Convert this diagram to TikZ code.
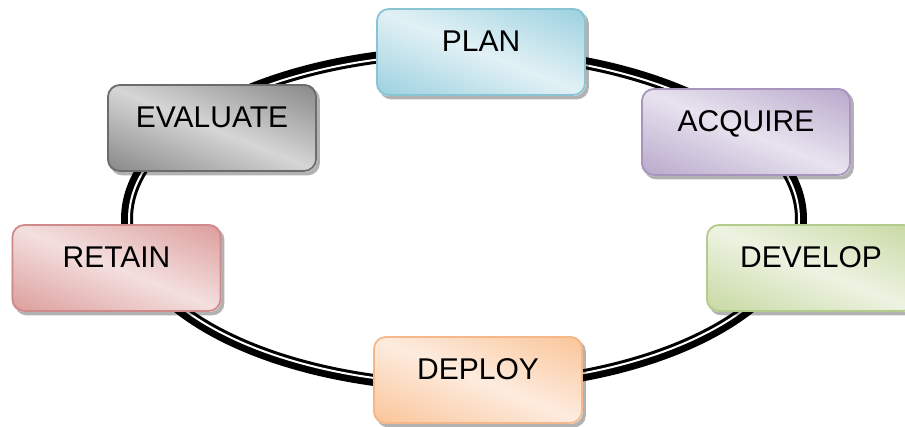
\documentclass[tikz,border=0pt]{standalone}
\usepackage{fontspec}
\setmainfont{Liberation Sans}
\usetikzlibrary{backgrounds}
\definecolor{planD}{HTML}{93CDDD}\definecolor{planL}{HTML}{E2F1F5}\definecolor{planB}{HTML}{88C4D4}
\definecolor{evalD}{HTML}{7F7F7F}\definecolor{evalL}{HTML}{D6D6D6}\definecolor{evalB}{HTML}{6C6C6C}
\definecolor{retD}{HTML}{D99694}\definecolor{retL}{HTML}{F3E0DF}\definecolor{retB}{HTML}{CF8A8C}
\definecolor{depD}{HTML}{FAC090}\definecolor{depL}{HTML}{FDECDF}\definecolor{depB}{HTML}{F4B88A}
\definecolor{acqD}{HTML}{B3A2C7}\definecolor{acqL}{HTML}{E8E3EF}\definecolor{acqB}{HTML}{A795BE}
\definecolor{devD}{HTML}{C3D69B}\definecolor{devL}{HTML}{EDF3E2}\definecolor{devB}{HTML}{B3CB8C}
\begin{document}
\begin{tikzpicture}[x=1pt,y=1pt,
  cyclebox/.style={rectangle, rounded corners=12pt,
    minimum width=208pt, minimum height=86pt, line width=1.7pt, draw=#1,
    font=\fontsize{30}{36}\selectfont, text height=10.5pt, text depth=10.5pt},
  boxshadow/.style={fill=black, opacity=0.3, rounded corners=12pt},
  ring/.style={draw=black, line width=12pt},
  ringgap/.style={draw=white, line width=2pt}]
\useasboundingbox (0,0) rectangle (905,427);
\node[cyclebox=planB] (plan) at (481,375) {PLAN};
\node[cyclebox=acqB] (acquire) at (746,295) {ACQUIRE};
\node[cyclebox=devB] (develop) at (811,159) {DEVELOP};
\node[cyclebox=depB] (deploy) at (478,47) {DEPLOY};
\node[cyclebox=retB] (retain) at (116.5,159) {RETAIN};
\node[cyclebox=evalB] (evaluate) at (212,299) {EVALUATE};
\begin{scope}[on background layer]
\draw[ring] (464,208) ellipse [x radius=337pt, y radius=167pt];
\draw[ringgap] (464,208) ellipse [x radius=335pt, y radius=165pt];
\foreach \n/\c in {plan/plan,acquire/acq,develop/dev,deploy/dep,retain/ret,evaluate/eval}{
  \fill[boxshadow] ([shift={(3,-3.5)}]\n.south west) rectangle ([shift={(3,-3.5)}]\n.north east);
  \begin{scope}
    \clip[rounded corners=12pt] (\n.south west) rectangle (\n.north east);
    \fill[white] (\n.south west) rectangle (\n.north east);
    \begin{scope}[transform canvas={rotate around={-22:(\n.center)}}]
      \shade[bottom color=\c D, top color=\c L]
        ([shift={(-140,-88)}]\n.center) rectangle ([shift={(140,0.5)}]\n.center);
      \shade[bottom color=\c L, top color=\c D]
        ([shift={(-140,-0.5)}]\n.center) rectangle ([shift={(140,88)}]\n.center);
    \end{scope}
  \end{scope}
}
\end{scope}
\end{tikzpicture}
\end{document}
